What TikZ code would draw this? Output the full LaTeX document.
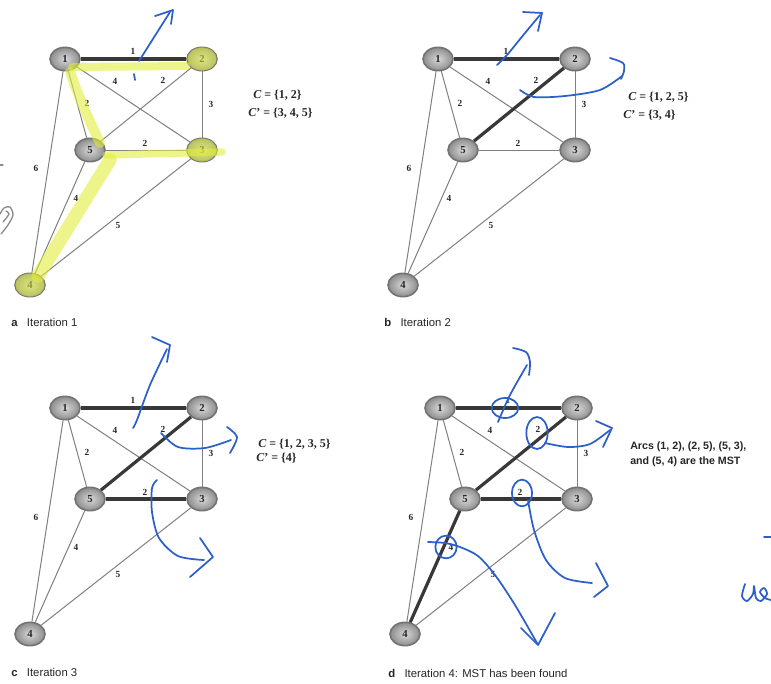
\documentclass[tikz,border=0pt]{standalone}
\usepackage{fontspec}
\setmainfont{Liberation Serif}
\setsansfont{Liberation Sans}
\usetikzlibrary{shapes.geometric}

\definecolor{inkblue}{RGB}{45,95,200}
\definecolor{hilite}{RGB}{225,238,60}

\tikzset{
  vtx/.style={ellipse, minimum width=22.5pt, minimum height=17.5pt, inner sep=0pt,
    draw=black!55, line width=1.2pt, inner color=black!15, outer color=black!45,
    font=\fontsize{8}{9}\selectfont\bfseries, text=black!85},
  lightedge/.style={draw=black!50, line width=0.75pt},
  treeedge/.style={draw=black!78, line width=2.4pt},
  wlab/.style={font=\fontsize{7}{8}\selectfont\bfseries, inner sep=0pt, text=black!85},
  settext/.style={font=\fontsize{9}{10}\selectfont\bfseries, inner sep=0pt, anchor=west, text=black!85},
  captext/.style={font=\sffamily\fontsize{8.5}{10}\selectfont, inner sep=0pt, anchor=west, text=black!85},
  arcstext/.style={font=\sffamily\bfseries\fontsize{8}{10}\selectfont, inner sep=0pt, anchor=west, text=black!85},
  pen/.style={draw=inkblue, line width=1.3pt, line cap=round, line join=round},
  marker/.style={draw=hilite, opacity=0.6, line cap=round, line join=round},
}

% the five-node network with all its arcs and weights; #1 is a name prefix
\newcommand\mstnet[1]{%
  \node[vtx] (#1-1) at (65,59) {1};
  \node[vtx] (#1-2) at (202,59) {2};
  \node[vtx] (#1-5) at (90,150) {5};
  \node[vtx] (#1-3) at (202,150) {3};
  \node[vtx] (#1-4) at (30,285) {4};
  \draw[lightedge] (#1-1) -- (#1-2);
  \draw[lightedge] (#1-1) -- (#1-5);
  \draw[lightedge] (#1-1) -- (#1-3);
  \draw[lightedge] (#1-1) -- (#1-4);
  \draw[lightedge] (#1-2) -- (#1-5);
  \draw[lightedge] (#1-2) -- (#1-3);
  \draw[lightedge] (#1-5) -- (#1-3);
  \draw[lightedge] (#1-5) -- (#1-4);
  \draw[lightedge] (#1-3) -- (#1-4);
  \node[wlab] (#1-w12) at (133,51) {1};
  \node[wlab] (#1-w13) at (115,81) {4};
  \node[wlab] (#1-w25) at (163,80) {2};
  \node[wlab] (#1-w15) at (87,103) {2};
  \node[wlab] (#1-w23) at (211,104) {3};
  \node[wlab] (#1-w53) at (145,143) {2};
  \node[wlab] (#1-w14) at (36,168) {6};
  \node[wlab] (#1-w54) at (76,198) {4};
  \node[wlab] (#1-w34) at (118,225) {5};
}

\begin{document}
\begin{tikzpicture}[x=0.75pt, y=-0.75pt]
\useasboundingbox (0,0) rectangle (771,683);
\fill[white] (0,0) rectangle (771,683);

% ---------------- (a) iteration 1
\begin{scope}
  \mstnet{a}
  \draw[treeedge] (a-1) -- (a-2);
  % highlighter strokes
  \draw[marker, line width=6pt] (72,67) -- (186,66);
  \draw[marker, line width=7.5pt] (70,72) .. controls (80,100) and (90,122) .. (100,143);
  \draw[marker, line width=5.5pt] (106,155) -- (222,152);
  \draw[marker, line width=10pt] (110,160) -- (38,276);
  \fill[hilite, opacity=0.55] (a-2) ellipse [x radius=11pt, y radius=8.7pt];
  \fill[hilite, opacity=0.55] (a-3) ellipse [x radius=11pt, y radius=8.7pt];
  \fill[hilite, opacity=0.55] (a-4) ellipse [x radius=11pt, y radius=8.7pt];
\end{scope}
\node[settext] (aC) at (253,95) {\textit{C} = \{1, 2\}};
\node[settext] (aCc) at (248,113) {\textit{C}' = \{3, 4, 5\}};
\node[captext] (acap) at (11,322) {\textbf{a}\hspace{7pt}Iteration 1};

% ---------------- (b) iteration 2
\begin{scope}[shift={(373,0)}]
  \mstnet{b}
  \draw[treeedge] (b-1) -- (b-2);
  \draw[treeedge] (b-2) -- (b-5);
\end{scope}
\node[settext] (bC) at (628,97) {\textit{C} = \{1, 2, 5\}};
\node[settext] (bCc) at (623,115) {\textit{C}' = \{3, 4\}};
\node[captext] (bcap) at (384,322) {\textbf{b}\hspace{7pt}Iteration 2};

% ---------------- (c) iteration 3
\begin{scope}[shift={(0,349)}]
  \mstnet{c}
  \draw[treeedge] (c-1) -- (c-2);
  \draw[treeedge] (c-2) -- (c-5);
  \draw[treeedge] (c-5) -- (c-3);
\end{scope}
\node[settext] (cC) at (258,444) {\textit{C} = \{1, 2, 3, 5\}};
\node[settext] (cCc) at (256,458) {\textit{C}' = \{4\}};
\node[captext] (ccap) at (11,672) {\textbf{c}\hspace{7pt}Iteration 3};

% ---------------- (d) iteration 4
\begin{scope}[shift={(375,349)}]
  \mstnet{d}
  \draw[treeedge] (d-1) -- (d-2);
  \draw[treeedge] (d-2) -- (d-5);
  \draw[treeedge] (d-5) -- (d-3);
  \draw[treeedge] (d-5) -- (d-4);
\end{scope}
\node[arcstext] (dA) at (630,447) {Arcs (1, 2), (2, 5), (5, 3),};
\node[arcstext] (dB) at (630,462) {and (5, 4) are the MST};
\node[captext] (dcap) at (388,673) {\textbf{d}\hspace{7pt}Iteration 4: MST has been found};

% ---------------- pen annotations
% (a)
\draw[pen] (134,74) -- (135,80);
\draw[pen] (139,61) -- (170,12);
\draw[pen] (155,16) -- (173,10) -- (171,24);
% (b)
\draw[pen] plot[smooth] coordinates {(497,65) (507,55) (525,33) (540,15)};
\draw[pen] (523,12) -- (542,13) -- (538,31);
\draw[pen] plot[smooth] coordinates {(520,90) (534,97) (565,96) (600,90) (622,76)};
\draw[pen] plot[smooth] coordinates {(610,58) (623,63) (624,71) (621,79)};
% (c)
\draw[pen] plot[smooth] coordinates {(133,428) (137,420) (150,385) (167,349)};
\draw[pen] (152,337) -- (170,345) -- (167,362);
\draw[pen] plot[smooth] coordinates {(161,433) (178,447) (205,448) (231,440)};
\draw[pen] plot[smooth] coordinates {(227,427) (237,437) (230,453)};
\draw[pen] plot[smooth] coordinates {(157,480) (152,488) (152,512) (159,538) (178,556) (204,560)};
\draw[pen] (200,538) -- (213,557) -- (190,577);
% (d)
\draw[pen] (505,408) ellipse [x radius=10pt, y radius=7.5pt];
\draw[pen] plot[smooth] coordinates {(498,422) (510,395) (527,365)};
\draw[pen] plot[smooth] coordinates {(513,348) (526,352) (530,362) (529,375)};
\draw[pen] (537,433) ellipse [x radius=8pt, y radius=12pt];
\draw[pen] plot[smooth] coordinates {(545,443) (568,447) (590,444) (610,430)};
\draw[pen] (596,421) -- (612,428) -- (603,447);
\draw[pen] (522,493) ellipse [x radius=7.5pt, y radius=10pt];
\draw[pen] plot[smooth] coordinates {(528,500) (534,530) (546,560) (565,578) (592,583)};
\draw[pen] (596,563) -- (608,586) -- (594,597);
\draw[pen] (446,547) ellipse [x radius=8pt, y radius=8.5pt];
\draw[pen] plot[smooth] coordinates {(428,542) (445,543) (460,547) (478,556) (495,575) (515,605) (537,643)};
\draw[pen] (521,628) -- (538,645) -- (555,613);
% margin notes
\draw[pen] (764,537) -- (771,537);
\draw[pen] plot[smooth] coordinates {(745,584) (742,596) (747,601) (753,594) (754,586) (756,598) (761,601) (767,594) (764,588) (760,592) (765,598) (771,600)};
\draw[draw=black!45, line width=0.9pt, line cap=round] (0,165) -- (3,165);
\draw[draw=black!45, line width=1pt, line cap=round] plot[smooth] coordinates {(1,234) (8,225) (13,215) (10,207) (4,208) (0,214)};
\draw[draw=black!45, line width=1pt, line cap=round] plot[smooth] coordinates {(3,222) (9,214) (6,211)};
\end{tikzpicture}
\end{document}
